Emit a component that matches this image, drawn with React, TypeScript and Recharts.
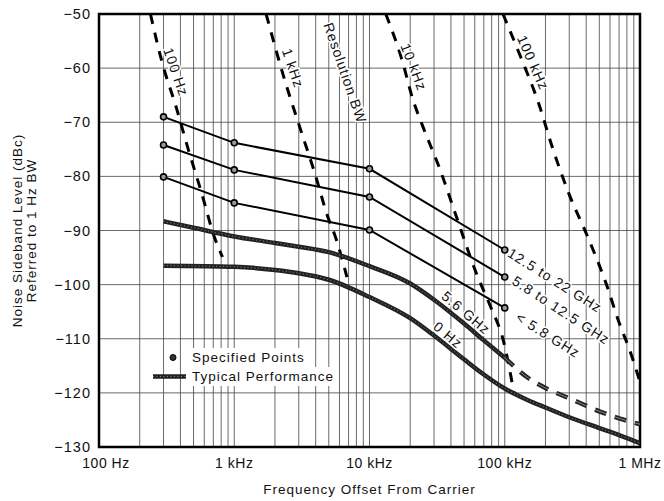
import React from 'react';
import { ComposedChart, Line, XAxis, YAxis, CartesianGrid, ReferenceDot, ReferenceArea, Label } from 'recharts';

// x grid: 2..9 per decade, 100 Hz to 1 MHz
const freqTicks = [
  100, 200, 300, 400, 500, 600, 700, 800, 900,
  1000, 2000, 3000, 4000, 5000, 6000, 7000, 8000, 9000,
  10000, 20000, 30000, 40000, 50000, 60000, 70000, 80000, 90000,
  100000, 200000, 300000, 400000, 500000, 600000, 700000, 800000, 900000,
  1000000,
];
const decadeLabels: Record<number, string> = {
  100: '100 Hz',
  1000: '1 kHz',
  10000: '10 kHz',
  100000: '100 kHz',
  1000000: '1 MHz',
};
const levelTicks = [-130, -120, -110, -100, -90, -80, -70, -60, -50];

// specified points (thin lines)
const specFreqs = [300, 1000, 10000, 100000];
const spec125to22 = [-69, -73.8, -78.6, -93.6];
const spec58to125 = [-74.2, -78.8, -83.8, -98.6];
const specBelow58 = [-80.1, -84.9, -89.9, -104.3];

// typical performance (thick lines)
const typ56Freqs = [300, 500, 1000, 2000, 3000, 5000, 10000, 20000, 30000, 50000, 70000, 100000];
const typ56 = [-88.3, -89.5, -91.1, -92.3, -93, -94, -96.6, -99.8, -102.8, -107.2, -110.3, -113.5];
const typ56ExtFreqs = [100000, 150000, 200000, 300000, 500000, 700000, 1000000];
const typ56Ext = [-113.5, -117.3, -119.1, -121, -123.4, -124.7, -125.8];
const typ0Freqs = [300, 1000, 2000, 3000, 5000, 10000, 20000, 30000, 50000, 70000, 100000, 150000, 200000, 300000, 500000, 700000, 1000000];
const typ0 = [-96.5, -96.7, -97.3, -97.9, -99.1, -102.3, -106.2, -109.4, -113.8, -116.6, -119.2, -121.4, -122.7, -124.5, -126.5, -127.8, -129.3];

// resolution bandwidth skirts (dashed)
const bw100Freqs = [240, 294, 372, 457, 571, 713, 818];
const bw100 = [-50, -59.1, -67.2, -75, -82.9, -91.2, -94.9];
const bw1kFreqs = [1720, 2360, 3050, 3940, 4920, 5550, 6810];
const bw1k = [-50, -62.2, -70.9, -79.4, -87.5, -90.9, -98.6];
const bw10kFreqs = [13200, 17400, 21000, 24900, 33300, 43000, 62800, 78300, 98000, 117000];
const bw10k = [-50, -58.5, -65.9, -70.9, -78.8, -86.8, -98.4, -104, -110.5, -120];
const bw100kFreqs = [97000, 131000, 178000, 226000, 297000, 411000, 560000, 698000, 850000, 1000000];
const bw100k = [-50, -57.9, -66.5, -74.8, -83.1, -91.2, -99.7, -106.9, -112.5, -118];

const zip = (fs: number[], vs: number[]) => fs.map((f, i) => ({ f, v: vs[i] }));

const annotations = [
  { text: '100 Hz', f: 371, v: -60.7, angle: 71 },
  { text: '1 kHz', f: 2720, v: -60, angle: 71 },
  { text: 'Resolution BW', f: 6600, v: -60.9, angle: 71 },
  { text: '10 kHz', f: 21300, v: -59.8, angle: 69 },
  { text: '100 kHz', f: 162000, v: -59, angle: 66 },
  { text: '12.5 to 22 GHz', f: 235000, v: -99.2, angle: 32 },
  { text: '5.8 to 12.5 GHz', f: 261000, v: -104.7, angle: 33 },
  { text: '< 5.8 GHz', f: 209000, v: -109.3, angle: 32 },
  { text: '5.6 GHz', f: 51800, v: -105.2, angle: 40 },
  { text: '0 Hz', f: 38000, v: -109.3, angle: 40 },
];

const FONT = '"Liberation Sans", Arial, sans-serif';
const INK = '#111';

const FreqTick = (props: any) => {
  const { x, y, payload } = props;
  const label = decadeLabels[payload.value];
  if (!label) return <g />;
  return (
    <text x={x + (payload.value === 100 ? 7 : 0)} y={y} dy={13} textAnchor="middle"
      fontFamily={FONT} fontSize={14} fill={INK} style={{ letterSpacing: '0.5px' }}>
      {label}
    </text>
  );
};

const LevelTick = (props: any) => {
  const { x, y, payload } = props;
  return (
    <text x={x} y={y} textAnchor="end" dominantBaseline="central"
      fontFamily={FONT} fontSize={14.5} fill={INK} style={{ letterSpacing: '1px' }}>
      {'\u2212' + Math.abs(payload.value)}
    </text>
  );
};

const SpecDot = (props: any) => {
  const { cx, cy } = props;
  return <circle cx={cx} cy={cy} r={3} fill="#999" stroke="#000" strokeWidth={1.6} />;
};

// thick "typical" curve: dark band with a light speckle on top
const typicalLine = (key: string, data: { f: number; v: number }[], dashed = false) => [
  <Line key={key} data={data} dataKey="v" type="monotone" stroke="#222" strokeWidth={4.5}
    strokeDasharray={dashed ? '12 9' : undefined} dot={false} isAnimationActive={false} />,
  <Line key={key + 's'} data={data} dataKey="v" type="monotone" stroke="#fff" strokeOpacity={0.45}
    strokeWidth={1} strokeDasharray={dashed ? '12 9' : '1 2.5'} dot={false} isAnimationActive={false} />,
];

export default function App() {
  return (
    <div style={{ position: 'relative', width: 664, height: 501, background: '#fff' }}>
      <style>{'body{margin:0}'}</style>
      <ComposedChart width={664} height={501} margin={{ top: 14, right: 24, bottom: 0, left: 0 }}>
        <CartesianGrid stroke="#444" strokeWidth={0.8} />
        <XAxis dataKey="f" type="number" scale="log" domain={[100, 1000000]} ticks={freqTicks}
          interval={0} allowDataOverflow tick={<FreqTick />} tickLine={false} axisLine={false} height={54}>
          <Label content={(p: any) => (
            <text x={p.viewBox.x + p.viewBox.width / 2} y={494} textAnchor="middle"
              fontFamily={FONT} fontSize={13.5} fill={INK} style={{ letterSpacing: '1px' }}>
              Frequency Offset From Carrier
            </text>
          )} />
        </XAxis>
        <YAxis type="number" domain={[-130, -50]} ticks={levelTicks} interval={0}
          allowDataOverflow tick={<LevelTick />} tickLine={false} axisLine={false} width={99}>
          <Label content={(p: any) => {
            const cy = p.viewBox.y + p.viewBox.height / 2;
            return (
              <g fontFamily={FONT} fontSize={13.5} fill={INK} style={{ letterSpacing: '1px' }}>
                <text x={17} y={cy} textAnchor="middle" dominantBaseline="central" transform={`rotate(-90 17 ${cy})`}>
                  Noise Sideband Level (dBc)
                </text>
                <text x={31} y={cy} textAnchor="middle" dominantBaseline="central" transform={`rotate(-90 31 ${cy})`}>
                  Referred to 1 Hz BW
                </text>
              </g>
            );
          }} />
        </YAxis>
        <ReferenceArea x1={100} x2={1000000} y1={-130} y2={-50} fill="none" stroke="#000" strokeWidth={2.5} />

        {[zip(bw100Freqs, bw100), zip(bw1kFreqs, bw1k), zip(bw10kFreqs, bw10k), zip(bw100kFreqs, bw100k)].map((d, i) => (
          <Line key={'bw' + i} data={d} dataKey="v" type="monotone" stroke="#000" strokeWidth={3}
            strokeDasharray="10 9" dot={false} isAnimationActive={false} />
        ))}

        {[spec125to22, spec58to125, specBelow58].map((vals, i) => (
          <Line key={'spec' + i} data={zip(specFreqs, vals)} dataKey="v" type="linear" stroke="#000"
            strokeWidth={2} dot={<SpecDot />} isAnimationActive={false} />
        ))}

        {typicalLine('t56', zip(typ56Freqs, typ56))}
        {typicalLine('t56x', zip(typ56ExtFreqs, typ56Ext), true)}
        {typicalLine('t0', zip(typ0Freqs, typ0))}

        {annotations.map((a) => (
          <ReferenceDot key={a.text} x={a.f} y={a.v} r={0} shape={(p: any) => (
            <text x={p.cx} y={p.cy} textAnchor="middle" dominantBaseline="central"
              transform={`rotate(${a.angle} ${p.cx} ${p.cy})`} fontFamily={FONT} fontSize={14}
              fill={INK} stroke="#fff" strokeWidth={3} paintOrder="stroke" style={{ letterSpacing: '1px' }}>
              {a.text}
            </text>
          )} />
        ))}
      </ComposedChart>

      <div style={{ position: 'absolute', left: 150, top: 348, fontFamily: FONT, fontSize: 13.5, letterSpacing: 1, color: INK, lineHeight: '19px' }}>
        <div style={{ display: 'flex', alignItems: 'center' }}>
          <svg width={40} height={19}><circle cx={23} cy={9.5} r={3} fill="#333" stroke="#000" /></svg>
          <span style={{ background: '#fff', padding: '0 2px' }}>Specified Points</span>
        </div>
        <div style={{ display: 'flex', alignItems: 'center' }}>
          <svg width={40} height={19}>
            <line x1={3} x2={36} y1={9.5} y2={9.5} stroke="#222" strokeWidth={4.5} />
            <line x1={3} x2={36} y1={9.5} y2={9.5} stroke="#fff" strokeOpacity={0.45} strokeWidth={1} strokeDasharray="1 2.5" />
          </svg>
          <span style={{ background: '#fff', padding: '0 2px' }}>Typical Performance</span>
        </div>
      </div>
    </div>
  );
}
